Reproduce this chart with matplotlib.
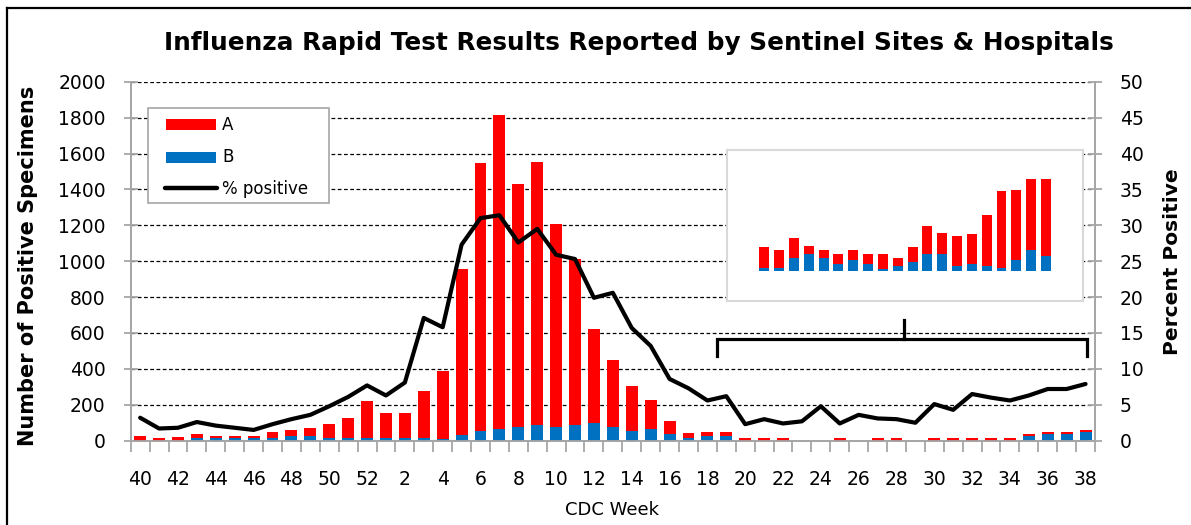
import matplotlib
matplotlib.use("Agg")
import matplotlib.pyplot as plt
from matplotlib.lines import Line2D
from matplotlib.patches import Rectangle
import numpy as np

# ---------------- data ----------------
weeks = [40, 41, 42, 43, 44, 45, 46, 47, 48, 49, 50, 51, 52,
         1, 2, 3, 4, 5, 6, 7, 8, 9, 10, 11, 12, 13, 14, 15, 16, 17, 18, 19,
         20, 21, 22, 23, 24, 25, 26, 27, 28, 29, 30, 31, 32, 33, 34, 35, 36, 37, 38]

flu_b = [0, 0, 0, 13, 13, 13, 13, 13, 25, 25, 13, 13, 13,
         13, 13, 13, 12, 33, 56, 67, 78, 89, 78, 89, 98, 78, 56, 67, 35, 13, 26, 26,
         0, 0, 0, 0, 0, 0, 0, 0, 0, 0, 0, 0, 0, 0, 0, 28, 35, 35, 46]

flu_total = [25, 13, 23, 36, 25, 25, 25, 48, 59, 70, 95, 128, 219,
             152, 152, 276, 390, 955, 1545, 1812, 1432, 1555, 1210, 1015, 620, 452, 305, 228, 112, 45, 46, 46,
             13, 13, 13, 0, 0, 13, 0, 13, 13, 0, 13, 13, 13, 13, 13, 35, 46, 46, 57]

flu_a = [t - b for t, b in zip(flu_total, flu_b)]

pct_positive = [3.2, 1.7, 1.8, 2.6, 2.1, 1.8, 1.5, 2.3, 3.0, 3.6, 4.8, 6.1, 7.7,
                6.3, 8.1, 17.1, 15.8, 27.3, 31.0, 31.4, 27.6, 29.5, 25.9, 25.3, 19.9, 20.6, 15.7, 13.2, 8.6, 7.3, 5.6, 6.2,
                2.3, 3.0, 2.4, 2.7, 4.8, 2.4, 3.6, 3.1, 3.0, 2.5, 5.1, 4.3, 6.5, 6.0, 5.6, 6.3, 7.2, 7.2, 7.9]

# inset (magnified view, weeks 19-38)
inset_weeks = [19, 20, 21, 22, 23, 24, 25, 26, 27, 28, 29, 30, 31, 32, 33, 34, 35, 36, 37, 38]
inset_total = [15.7, 13.9, 21.5, 16.1, 13.5, 11.3, 13.5, 11.3, 11.3, 8.5,
               15.7, 29.6, 25.0, 22.6, 23.9, 36.5, 52.4, 53.0, 59.6, 59.6]
inset_b = [2.2, 2.2, 8.5, 10.9, 8.5, 4.8, 7.4, 4.8, 1.5, 3.5,
           5.9, 11.3, 10.9, 3.3, 4.8, 3.3, 2.2, 7.4, 13.5, 10.0]
inset_a = [t - b for t, b in zip(inset_total, inset_b)]

legend_labels = ["A", "B", "% positive"]

RED = "#FF0000"
BLUE = "#0070C0"
GRAY = "#A6A6A6"
FONT = "DejaVu Sans"

plt.rcParams['font.family'] = [FONT]

W, H = 1191, 525
fig = plt.figure(figsize=(W / 100, H / 100), dpi=100)


def fx(px):
    return px / W


def fy(py):
    return 1 - py / H


# main axes
ax_l, ax_r, ax_t, ax_b = 130.7, 1095, 81.7, 440.7
ax = fig.add_axes([fx(ax_l), fy(ax_b), (ax_r - ax_l) / W, (ax_b - ax_t) / H])
x = np.arange(len(weeks))
bw = 0.63
ax.bar(x, flu_b, width=bw, color=BLUE, zorder=3)
ax.bar(x, flu_a, width=bw, bottom=flu_b, color=RED, zorder=3)
ax.set_xlim(-0.5, len(weeks) - 0.5)
ax.set_ylim(0, 2000)
ax.set_yticks(np.arange(0, 2001, 200))
ax.set_yticklabels([str(v) for v in range(0, 2001, 200)], fontsize=13.5)
ax.yaxis.grid(True, color="black", linestyle=(0, (3, 2)), linewidth=0.9, zorder=1)
ax.set_axisbelow(True)
ax.set_xticks(x[::2])
ax.set_xticklabels([str(w) for w in weeks[::2]], fontsize=13.5)
ax.set_xticks(np.arange(-0.5, len(weeks), 1.0), minor=True)
ax.tick_params(axis='x', which='major', length=0, pad=21)
ax.tick_params(axis='x', which='minor', length=8, color=GRAY, width=1.3, direction='out')
ax.tick_params(axis='y', direction='inout', length=10, color=GRAY, width=1.3, pad=13)
ax.spines['top'].set_visible(False)
for s in ['left', 'right', 'bottom']:
    ax.spines[s].set_color(GRAY)
    ax.spines[s].set_linewidth(1.3)

ax2 = ax.twinx()
ax2.plot(x, pct_positive, color="black", linewidth=3.0, zorder=5, solid_capstyle='round', solid_joinstyle='round')
ax2.set_ylim(0, 50)
ax2.set_yticks(np.arange(0, 51, 5))
ax2.set_yticklabels([str(v) for v in range(0, 51, 5)], fontsize=13.5)
ax2.tick_params(axis='y', direction='inout', length=10, color=GRAY, width=1.3, pad=13)
ax2.spines['top'].set_visible(False)
for s in ['left', 'right', 'bottom']:
    ax2.spines[s].set_color(GRAY)
    ax2.spines[s].set_linewidth(1.3)

# bracket (drawn in data coords of the count axis)
bl, br, bm = 30.5, 50.1, 40.4
ytop, ydown, ytick = 566, 470, 670
ax.plot([bl, bl, br, br], [ydown, ytop, ytop, ydown], color="black", linewidth=2.3, zorder=6,
        solid_joinstyle='miter', clip_on=False)
ax.plot([bm, bm], [ytop, ytick], color="black", linewidth=2.3, zorder=6)

# legend (drawn manually to match the box layout)
fig.add_artist(Rectangle((fx(148), fy(203)), (329 - 148) / W, (203 - 108) / H, transform=fig.transFigure,
                         facecolor="white", edgecolor=GRAY, linewidth=1.2, zorder=5))
fig.add_artist(Rectangle((fx(166), fy(130)), 50 / W, 11 / H, transform=fig.transFigure,
                         facecolor=RED, edgecolor="none", zorder=6))
fig.add_artist(Rectangle((fx(166), fy(163)), 50 / W, 11 / H, transform=fig.transFigure,
                         facecolor=BLUE, edgecolor="none", zorder=6))
fig.add_artist(Line2D([fx(165), fx(217)], [fy(188), fy(188)], transform=fig.transFigure, color="black",
                      linewidth=3.2, solid_capstyle='round', zorder=6))
for lab, yy in zip(legend_labels, [124.5, 157.5, 189]):
    fig.text(fx(222), fy(yy), lab, ha='left', va='center', fontsize=12, zorder=7)

# inset
in_l, in_r, in_t, in_b = 727, 1083, 150, 300.7
axi = fig.add_axes([fx(in_l), fy(in_b), (in_r - in_l) / W, (in_b - in_t) / H])
xi = np.arange(len(inset_weeks))
axi.bar(xi, inset_b, width=0.67, color=BLUE)
axi.bar(xi, inset_a, width=0.67, bottom=inset_b, color=RED)
axi.set_xlim(-2.52, 21.5)
axi.set_ylim(-19.1, 78.7)
axi.set_xticks([])
axi.set_yticks([])
axi.set_facecolor("white")
for s in axi.spines.values():
    s.set_color("#D9D9D9")
    s.set_linewidth(1.5)

# texts
fig.text(fx(639), fy(43), "Influenza Rapid Test Results Reported by Sentinel Sites & Hospitals",
         ha='center', va='center', fontsize=17.8, fontweight='bold')
fig.text(fx(28), fy(266), "Number of Positive Specimens", rotation=90, ha='center', va='center',
         fontsize=15, fontweight='bold')
fig.text(fx(1172), fy(262), "Percent Positive", rotation=90, ha='center', va='center',
         fontsize=14.5, fontweight='bold')
fig.text(fx(612), fy(510), "CDC Week", ha='center', va='center', fontsize=13)

# outer frame (top and left visible)
fig.add_artist(Line2D([fx(7), fx(7)], [0, fy(8)], transform=fig.transFigure, color="black", linewidth=1.6))
fig.add_artist(Line2D([fx(7), 1], [fy(8), fy(8)], transform=fig.transFigure, color="black", linewidth=1.6))

fig.savefig("out.png", dpi=100)
